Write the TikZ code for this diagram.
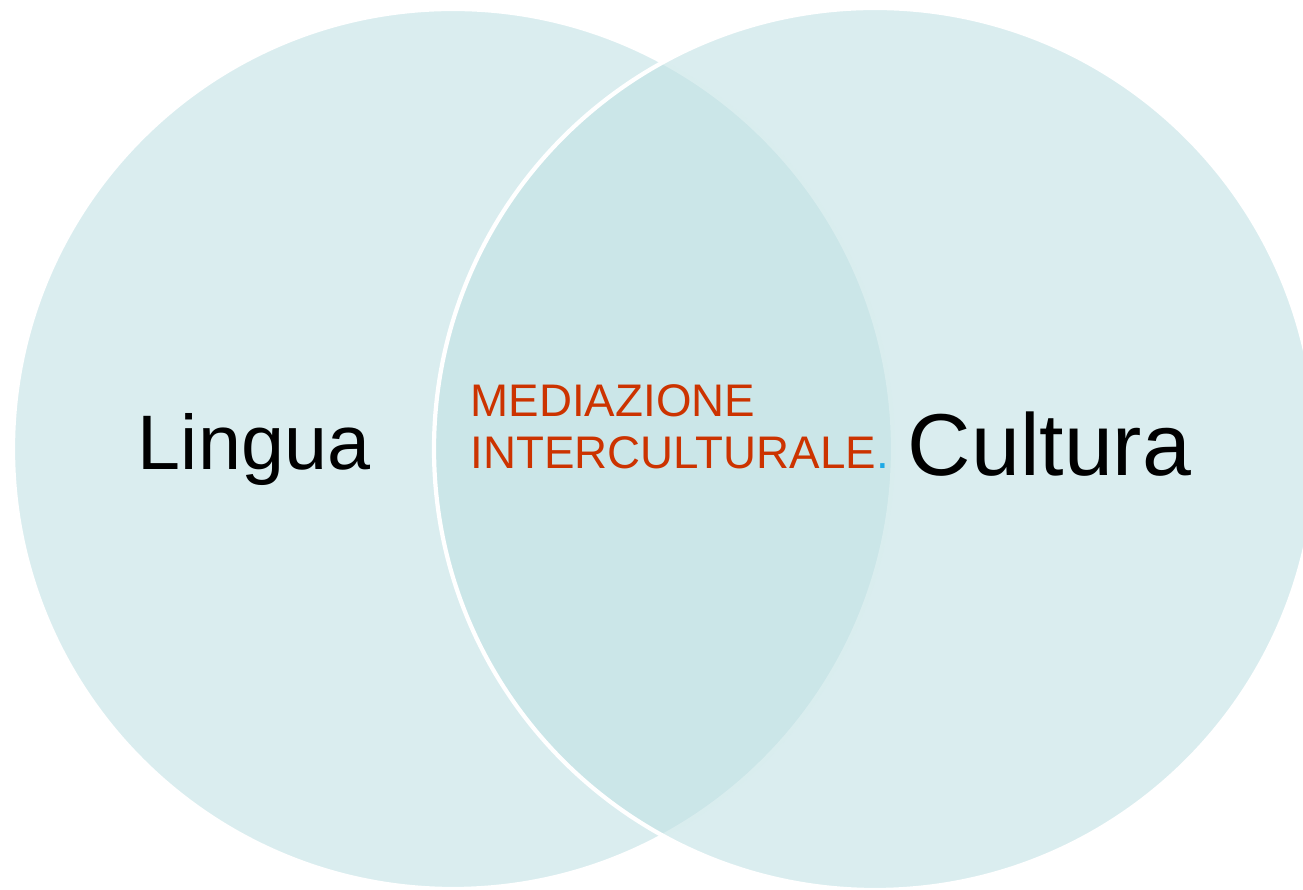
\documentclass[tikz,border=0pt]{standalone}
\usepackage{fontspec}
\setmainfont{Liberation Sans}
\usepackage{tikz}
\usetikzlibrary{positioning}
\definecolor{venn}{RGB}{193,225,228}
\definecolor{rossomed}{RGB}{204,51,0}
\definecolor{puntoblu}{RGB}{30,170,230}

\begin{document}
\begin{tikzpicture}[
  cerchio/.style={fill=venn, fill opacity=0.6, draw=white, line width=1.2pt},
  etichetta/.style={inner sep=0pt, anchor=base, text=black},
  centro/.style={inner sep=0pt, anchor=base west, text=rossomed,
    font=\fontsize{13}{15}\selectfont}]
\useasboundingbox (0,0) rectangle (13.03,8.90);
% --- diagramma di Venn: lingua e cultura ---
\filldraw[cerchio] (4.53,4.41) circle (4.40);
\filldraw[cerchio] (8.75,4.41) circle (4.41);
\node[etichetta, font=\fontsize{22}{26}\selectfont] (lingua) at (2.54,4.20) {Lingua};
\node[etichetta, font=\fontsize{25}{30}\selectfont] (cultura) at (10.495,4.14) {Cultura};
\node[centro] (mediazione) at (4.70,4.73) {MEDIAZIONE};
\node[centro] (intercult) at (4.70,4.21) {INTERCULTURALE{\color{puntoblu}.}};
\end{tikzpicture}
\end{document}
